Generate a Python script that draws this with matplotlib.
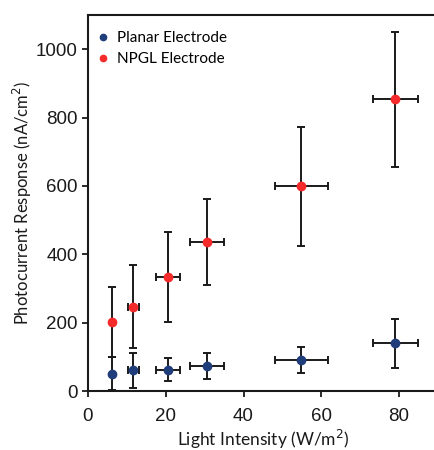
import matplotlib
matplotlib.use("Agg")
import matplotlib.pyplot as plt
from matplotlib.lines import Line2D

intensity = [6.3, 11.7, 20.5, 30.6, 54.9, 79.0]
intensity_err = [0.0, 1.5, 3.1, 4.4, 6.7, 5.8]
planar = [51, 60, 62, 74, 92, 139]
planar_err = [48, 52, 34, 38, 38, 73]
npgl = [201, 247, 334, 436, 599, 853]
npgl_err = [102, 122, 131, 126, 174, 198]

blue = '#1f3d7a'
red = '#f52a2a'

fig = plt.figure(figsize=(4.35, 4.5), dpi=100)
ax = fig.add_axes([88/435, 59/450, (438-88)/435, (391-15)/450])

eb = dict(fmt='o', ms=6, ecolor='#1a1a1a', elinewidth=1.4, capsize=3, capthick=1.4, zorder=3)
ax.errorbar(intensity, planar, yerr=planar_err, xerr=intensity_err, color=blue, **eb)
ax.errorbar(intensity, npgl, yerr=npgl_err, xerr=intensity_err, color=red, **eb)

ax.set_xlim(0, 90)
ax.set_ylim(0, 1100)
ax.set_xticks([0, 20, 40, 60, 80])
ax.set_yticks([0, 200, 400, 600, 800, 1000])
ax.spines['right'].set_visible(False)
for s in ax.spines.values():
    s.set_linewidth(1.5)
    s.set_color('#1a1a1a')
ax.tick_params(direction='out', length=4, width=1.3, labelsize=13.5, colors='#1a1a1a')
ax.tick_params(axis='x', pad=8)
for lab in ax.get_xticklabels() + ax.get_yticklabels():
    lab.set_fontfamily('Liberation Sans')

ax.set_xlabel('Light Intensity (W/m$^2$)', fontsize=12.5, family='Lato', color='#1a1a1a', labelpad=2)
ax.set_ylabel('Photocurrent Response (nA/cm$^2$)', fontsize=12, family='Lato', color='#1a1a1a', labelpad=1)

handles = [Line2D([], [], ls='none', marker='o', ms=4.5, color=blue),
           Line2D([], [], ls='none', marker='o', ms=4.5, color=red)]
ax.legend(handles, ['Planar Electrode', 'NPGL Electrode'], loc='upper left', frameon=False,
          bbox_to_anchor=(-8/350, 1.0 - 1/376),
          prop={'family': 'Lato', 'size': 11}, handletextpad=0.4, handlelength=1.0,
          borderaxespad=0.6, labelspacing=0.45, borderpad=0.4)

fig.savefig('out.png', dpi=100)
